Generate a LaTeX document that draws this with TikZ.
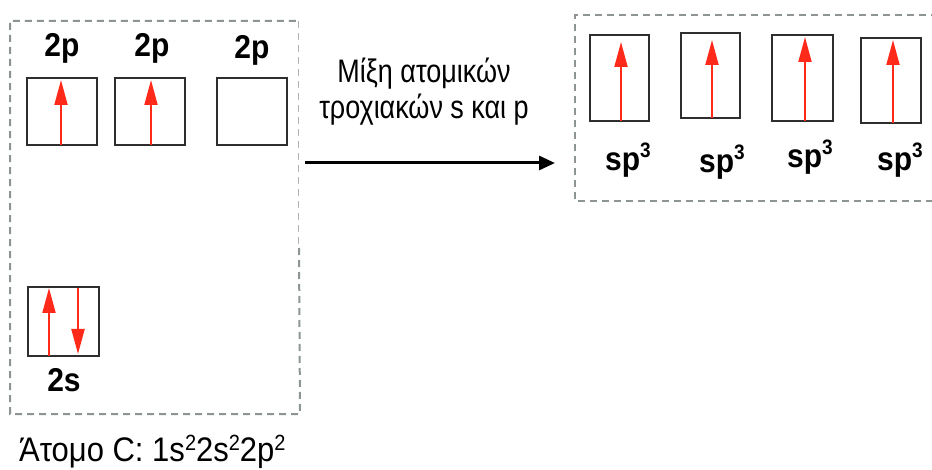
\documentclass[tikz,border=0pt]{standalone}
\usepackage{fontspec}
\setmainfont{Liberation Sans}
\usetikzlibrary{arrows.meta}
\definecolor{spinred}{HTML}{FF2A1A}
\definecolor{boxgray}{HTML}{8C9494}
\definecolor{edge}{HTML}{2E2E2E}
\newcommand{\tall}[1]{\scalebox{1}[1.1]{#1}}
\newcommand{\spthree}{\tall{sp\raisebox{12pt}{\fontsize{19}{19}\selectfont 3}}}
\newcommand{\sq}{\raisebox{10pt}{\fontsize{20}{20}\selectfont 2}}
\tikzset{
  orbital/.style={draw=edge, line width=2.8pt, fill=none},
  frame/.style={draw=boxgray, line width=2pt, dash pattern=on 7pt off 5pt},
  spin/.style={draw=spinred, line width=2pt, -{Triangle[length=25pt,width=13pt]}},
  lbl/.style={font=\fontsize{30}{30}\selectfont\bfseries, inner sep=0pt},
  note/.style={font=\fontsize{31}{32}\selectfont, inner sep=0pt}
}
\begin{document}
\begin{tikzpicture}[x=1pt,y=-1pt]
\useasboundingbox (0,0) rectangle (932,470);
\fill[white] (0,0) rectangle (932,470);

% ground-state carbon frame
\draw[frame] (299,248) -- (300,414) -- (10,414) -- (10,21) -- (298,21);
\draw[draw=boxgray!70, line width=1pt, dash pattern=on 7pt off 5pt] (298,21) -- (298,248);

% 2p orbitals
\node[lbl] (l2pa) at (62,48) {\tall{2p}};
\node[lbl] (l2pb) at (152,48) {\tall{2p}};
\node[lbl] (l2pc) at (252,50) {\tall{2p}};
\draw[orbital] (27,78) rectangle (97,145);
\draw[orbital] (115,78) rectangle (185,145);
\draw[orbital] (217,78) rectangle (287,145);
\coordinate (pa0) at (61,145); \coordinate (pa1) at (61,80);
\coordinate (pb0) at (151,145); \coordinate (pb1) at (151,80);
\draw[spin] (pa0) -- (pa1);
\draw[spin] (pb0) -- (pb1);

% 2s orbital
\draw[orbital] (28,287) rectangle (99,356);
\coordinate (sa0) at (49,356); \coordinate (sa1) at (49,288);
\coordinate (sb0) at (78,288); \coordinate (sb1) at (78,354);
\draw[spin] (sa0) -- (sa1);
\draw[spin] (sb0) -- (sb1);
\node[lbl] (l2s) at (64,380) {\tall{2s}};

% electron configuration
\node[note, anchor=base west] (conf) at (19,461)
  {\tall{Άτομο C: 1s\sq 2s\sq 2p\sq}};

% hybridisation step
\node[note, align=center] (mix) at (424,92)
  {\scalebox{0.87}[1.05]{Μίξη ατομικών}\\[4pt]\scalebox{0.87}[1.05]{τροχιακών s και p}};
\coordinate (ha) at (305,163);
\coordinate (hb) at (555,163);
\draw[draw=black, line width=3pt, -{Triangle[length=16pt,width=14pt]}] (ha) -- (hb);

% sp3 hybrid frame
\draw[frame] (950,15) -- (575,15) -- (575,201) -- (950,201);

% sp3 orbitals
\draw[orbital] (590,35) rectangle (649,121);
\draw[orbital] (681,33) rectangle (740,118);
\draw[orbital] (772,35) rectangle (833,121);
\draw[orbital] (861,38) rectangle (921,123);
\coordinate (h1a) at (621,121); \coordinate (h1b) at (621,42);
\coordinate (h2a) at (712,118); \coordinate (h2b) at (712,40);
\coordinate (h3a) at (805,121); \coordinate (h3b) at (805,37);
\coordinate (h4a) at (893,123); \coordinate (h4b) at (893,40);
\draw[spin] (h1a) -- (h1b);
\draw[spin] (h2a) -- (h2b);
\draw[spin] (h3a) -- (h3b);
\draw[spin] (h4a) -- (h4b);
\node[lbl] (s1) at (628,160) {\spthree};
\node[lbl] (s2) at (722,162) {\spthree};
\node[lbl] (s3) at (810,157) {\spthree};
\node[lbl] (s4) at (900,160) {\spthree};
\end{tikzpicture}
\end{document}
